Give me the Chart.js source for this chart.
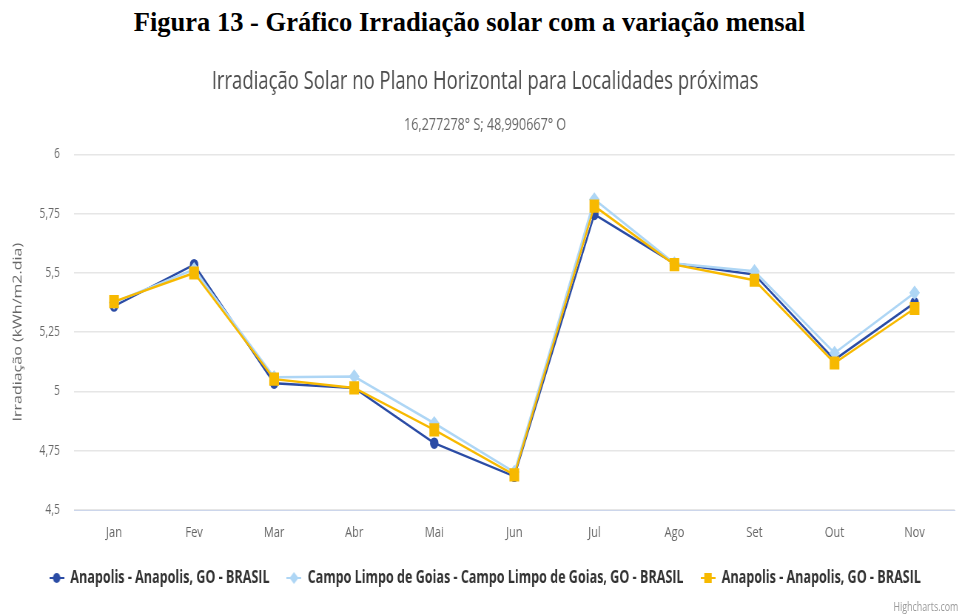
<!DOCTYPE html>
<html lang="pt">
<head>
  <meta charset="UTF-8">
  <title>Irradiação Solar</title>
  <script src="https://cdn.jsdelivr.net/npm/chart.js"></script>
  <style>
    body {
      margin: 0;
      background: #ffffff;
      width: 962px;
      height: 615px;
      position: relative;
      overflow: hidden;
    }

    .fig-title {
      position: absolute;
      top: 7px;
      left: 0;
      width: 939px;
      text-align: center;
      font-family: "Liberation Serif", "Times New Roman", serif;
      font-weight: bold;
      font-size: 26.5px;
      line-height: 1.2;
      color: #000;
    }

    /* the highcharts screenshot is squeezed sideways, so the whole chart is too */
    .stage {
      position: absolute;
      top: 0;
      left: 0;
      width: 1300px;
      height: 615px;
      transform: scaleX(0.74);
      transform-origin: 0 0;
    }

    .chart-box {
      position: absolute;
      top: 50px;
      left: 0;
      width: 1300px;
      height: 565px;
    }

    .credits {
      position: absolute;
      right: 5px;
      top: 598px;
      font-family: "Open Sans", sans-serif;
      font-size: 12px;
      color: #999;
    }
  </style>
</head>
<body>

<div class="fig-title">Figura 13 - Gráfico Irradiação solar com a variação mensal</div>
<div class="stage">
  <div class="chart-box"><canvas id="irradChart"></canvas></div>
  <div class="credits">Highcharts.com</div>
</div>

<script>
  const months = ['Jan', 'Fev', 'Mar', 'Abr', 'Mai', 'Jun', 'Jul', 'Ago', 'Set', 'Out', 'Nov'];

  const anapolis1 = [5.36, 5.535, 5.035, 5.015, 4.782, 4.642, 5.747, 5.54, 5.493, 5.134, 5.374];
  const campoLimpo = [5.375, 5.515, 5.06, 5.063, 4.866, 4.66, 5.81, 5.54, 5.507, 5.162, 5.416];
  const anapolis2 = [5.379, 5.50, 5.052, 5.015, 4.838, 4.648, 5.782, 5.535, 5.469, 5.12, 5.35];

  const yTicks = [4.5, 4.75, 5, 5.25, 5.5, 5.75, 6];

  const colDark = '#2b4ca5';
  const colLight = '#aed6f5';
  const colYellow = '#f7b900';

  const sans = '"Open Sans", sans-serif';

  // legend symbol like highcharts: short line with the marker on it
  function legendIcon(color, shape) {
    const c = document.createElement('canvas');
    c.width = 20;
    c.height = 14;
    const ctx = c.getContext('2d');
    ctx.strokeStyle = color;
    ctx.fillStyle = color;
    ctx.lineWidth = 2;
    ctx.beginPath();
    ctx.moveTo(0, 7);
    ctx.lineTo(20, 7);
    ctx.stroke();
    ctx.beginPath();
    if (shape === 'circle') {
      ctx.arc(10, 7, 5, 0, Math.PI * 2);
    } else if (shape === 'diamond') {
      ctx.moveTo(10, 1); ctx.lineTo(16, 7); ctx.lineTo(10, 13); ctx.lineTo(4, 7);
      ctx.closePath();
    } else {
      ctx.rect(5, 2, 10, 10);
    }
    ctx.fill();
    return c;
  }

  const icons = [
    legendIcon(colDark, 'circle'),
    legendIcon(colLight, 'diamond'),
    legendIcon(colYellow, 'square')
  ];

  new Chart(document.getElementById('irradChart'), {
    type: 'line',
    data: {
      labels: months,
      datasets: [
        {
          label: 'Anapolis - Anapolis, GO - BRASIL',
          data: anapolis1,
          borderColor: colDark,
          backgroundColor: colDark,
          borderWidth: 2.5,
          pointStyle: 'circle',
          pointRadius: 4.5,
          order: 3
        },
        {
          label: 'Campo Limpo de Goias - Campo Limpo de Goias, GO - BRASIL',
          data: campoLimpo,
          borderColor: colLight,
          backgroundColor: colLight,
          borderWidth: 2.5,
          pointStyle: 'rectRot',
          pointRadius: 5.5,
          order: 2
        },
        {
          label: 'Anapolis - Anapolis, GO - BRASIL',
          data: anapolis2,
          borderColor: colYellow,
          backgroundColor: colYellow,
          borderWidth: 2.5,
          pointStyle: 'rect',
          pointRadius: 7.5,
          order: 1
        }
      ]
    },
    options: {
      responsive: true,
      maintainAspectRatio: false,
      animation: false,
      events: [],
      layout: {
        padding: { left: 0, right: -11, top: 0, bottom: 18.5 }
      },
      plugins: {
        title: {
          display: true,
          text: 'Irradiação Solar no Plano Horizontal para Localidades próximas',
          color: '#4d4d4d',
          font: { family: sans, size: 25, weight: 'normal' },
          padding: { top: 17, bottom: 18 }
        },
        subtitle: {
          display: true,
          text: '16,277278° S; 48,990667° O',
          color: '#666666',
          font: { family: sans, size: 17, weight: 'normal' },
          padding: { top: 0, bottom: 19 }
        },
        legend: {
          position: 'bottom',
          labels: {
            usePointStyle: true,
            pointStyleWidth: 20,
            boxHeight: 14,
            padding: 23,
            color: '#333333',
            font: { family: sans, size: 17, weight: 'bold' },
            sort: (a, b) => a.datasetIndex - b.datasetIndex,
            generateLabels: (chart) => {
              const items = Chart.defaults.plugins.legend.labels.generateLabels(chart);
              items.forEach(it => { it.pointStyle = icons[it.datasetIndex]; });
              return items;
            }
          }
        },
        tooltip: { enabled: false }
      },
      scales: {
        x: {
          offset: true,
          grid: { display: false, drawTicks: false },
          border: { display: true, color: '#ccd6eb', width: 1 },
          ticks: {
            color: '#666666',
            padding: 14,
            font: { family: sans, size: 15 }
          },
          afterFit: (scale) => { scale.height = 36.5; }
        },
        y: {
          min: 4.5,
          max: 6,
          afterBuildTicks: (scale) => { scale.ticks = yTicks.map(v => ({ value: v })); },
          grid: { color: '#e6e6e6', lineWidth: 1.5, drawTicks: false },
          border: { display: false },
          ticks: {
            color: '#666666',
            padding: 19,
            font: { family: sans, size: 14 },
            callback: (v) => String(v).replace('.', ',')
          },
          title: {
            display: true,
            text: 'Irradiação (kWh/m2.dia)',
            color: '#666666',
            font: { family: sans, size: 16 },
            padding: { top: 15, bottom: 0 }
          },
          afterFit: (scale) => { scale.width = 100; }
        }
      }
    }
  });
</script>

</body>
</html>
